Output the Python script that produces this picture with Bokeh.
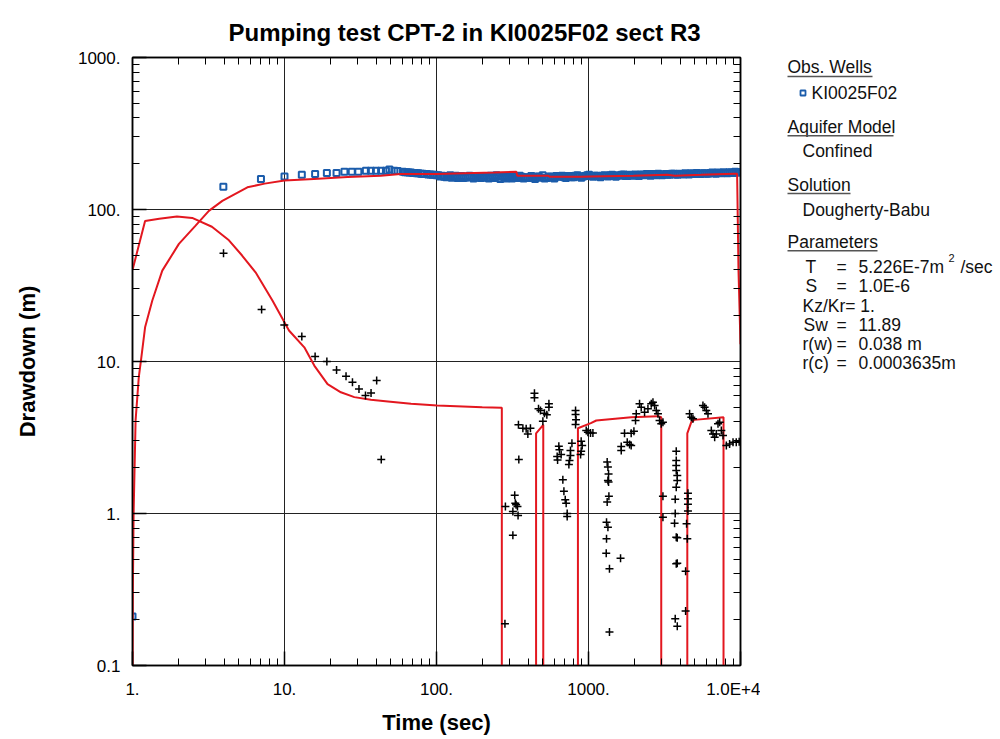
import math
from bokeh.plotting import figure
from bokeh.models import Range1d, LogAxis, FixedTicker, Title
from bokeh.layouts import row
from bokeh.embed import file_html
from bokeh.resources import INLINE
from bokeh.core.properties import value

# ---------------- data ----------------
TITLE = "Pumping test CPT-2 in KI0025F02 sect R3"
X_LABEL = "Time (sec)"
Y_LABEL = "Drawdown (m)"

x_ticks = [1, 10, 100, 1000, 10000]
x_tick_labels = ["1.", "10.", "100.", "1000.", "1.0E+4"]
y_ticks = [0.1, 1, 10, 100, 1000]
y_tick_labels = ["0.1", "1.", "10.", "100.", "1000."]

# observed drawdown, well KI0025F02 (early points)
obs_early_t = [1.0, 3.96, 7.0, 10.0, 13.0, 15.9, 19.0, 22.0, 24.8, 27.7, 30.6,
               34.3, 37.0, 40.0, 43.2, 46.5, 49.0, 52.8, 55.5]
obs_early_s = [0.21, 141, 159, 165, 169, 171, 174, 174, 177, 177, 177,
               180, 180, 180, 180, 180, 183, 180, 179]

# observed drawdown, dense later record
obs_late_t = [60, 64, 68, 72, 76, 81, 86, 91, 97, 103,
              109, 116, 123, 130, 138, 146, 155, 165, 175, 185,
              196, 208, 221, 234, 248, 263, 279, 296, 314, 333,
              353, 374, 396, 420, 445, 472, 500, 530, 562, 596,
              632, 670, 710, 753, 798, 846, 897, 951, 1008, 1068,
              1132, 1200, 1272, 1348, 1429, 1515, 1606, 1702, 1804, 1912,
              2027, 2149, 2278, 2415, 2560, 2714, 2877, 3050, 3233, 3427,
              3633, 3851, 4082, 4327, 4587, 4862, 5154, 5463, 5791, 6138,
              6506, 6896, 7310, 7749, 8214, 8707, 9229, 9783]
obs_late_s = [177, 176, 175, 174, 173, 172, 171, 170, 169, 168,
              167, 163, 168, 164, 161, 166, 162, 167, 160, 165,
              161, 166, 160, 164, 168, 159, 163, 166, 160, 164,
              167, 160, 163, 166, 159, 164, 168, 161, 165, 160,
              164, 167, 161, 166, 163, 168, 162, 166, 169, 164,
              167, 163, 168, 165, 169, 164, 167, 170, 166, 168,
              170, 166, 169, 171, 167, 170, 172, 168, 171, 169,
              172, 169, 171, 173, 170, 172, 174, 171, 173, 172,
              175, 172, 174, 176, 173, 175, 177, 175]
# additional readings between the above times
obs_mid_t = [62, 66, 70, 74, 79, 83, 88, 94, 100, 106,
             112, 119, 126, 134, 142, 150, 160, 170, 180, 190,
             202, 214, 227, 241, 255, 271, 287, 305, 323, 343,
             363, 385, 408, 432, 458, 486, 515, 546, 579, 614,
             651, 690, 731, 775, 822, 871, 924, 979, 1038, 1100,
             1166, 1236, 1310, 1388, 1472, 1560, 1654, 1753, 1858, 1970,
             2088, 2213, 2346, 2487, 2636, 2795, 2962, 3140, 3328, 3528,
             3740, 3964, 4202, 4454, 4721, 5004, 5305, 5623, 5960, 6318,
             6697, 7099, 7525, 7976, 8455, 8962, 9500, 9900]
obs_mid_s = [176, 175, 174, 173, 172, 171, 170, 169, 168, 165,
             164, 166, 162, 167, 163, 161, 165, 163, 166, 162,
             164, 162, 167, 161, 164, 166, 160, 163, 165, 161,
             164, 163, 161, 162, 165, 162, 160, 164, 162, 166,
             165, 163, 166, 163, 167, 165, 165, 168, 166, 167,
             165, 167, 166, 168, 166, 168, 169, 166, 169, 167,
             168, 170, 168, 169, 171, 168, 170, 170, 169, 172,
             170, 172, 170, 171, 173, 171, 172, 173, 172, 174,
             173, 175, 173, 174, 176, 174, 176, 176]

# derivative of observed drawdown
deriv_t = [3.97, 7.07, 9.97, 13.0, 15.9, 19.0, 22.0, 25.4, 28.0, 30.9, 34.1, 37.1, 40.4, 43.3,
           282, 284, 318, 318, 327, 330, 334, 341, 344, 346, 348, 370, 389, 399, 415,
           441, 441, 469, 483, 501, 513, 532, 549, 549,
           622, 626, 638, 644, 661, 678, 689, 703, 713, 724, 724,
           743, 750, 761, 761, 778, 822, 822, 828, 822, 887, 895, 895, 909,
           966, 991, 1031, 1069,
           1308, 1314, 1314, 1327, 1327, 1342, 1342, 1342, 1355, 1355, 1362, 1374, 1374,
           1625, 1642, 1642, 1726, 1798, 1863, 1909, 1909, 1990,
           2039, 2061, 2167, 2222, 2338, 2460, 2588, 2655, 2722, 2792, 2864, 2934, 3010,
           3088, 3088, 3088,
           3683, 3720, 3720, 3720, 3778, 3778, 3778, 3778, 3778, 3778, 3838, 3838, 3778,
           3838, 3838, 3838,
           4354, 4354, 4418, 4467, 4511, 4511, 4511, 4511, 4624, 4745, 4867,
           5661, 5806, 5957, 6110, 6427, 6592, 6761, 6934, 7112, 7294, 7481, 7673,
           8070, 8477, 8928, 9376, 9800]
deriv_s = [51.5, 22.0, 17.4, 14.6, 10.8, 10.0, 8.8, 8.0, 7.3, 6.6, 5.97, 6.2, 7.5, 2.27,
           0.188, 1.11, 1.03, 0.72, 1.32, 1.17, 1.14, 1.11, 0.97, 3.83, 2.27, 3.64, 3.61, 3.34, 3.64,
           6.19, 5.77, 4.89, 4.76, 4.05, 4.57, 4.46, 5.27, 5.0,
           2.37, 2.25, 2.77, 2.63, 2.44, 1.67, 1.40, 1.23, 1.17, 1.0, 0.955,
           2.10, 2.23, 2.41, 2.60, 2.90, 4.76, 4.48, 4.14, 3.85, 2.44, 2.99, 2.57, 2.80,
           3.51, 3.43, 3.38, 3.38,
           0.548, 0.877, 0.681, 2.18, 1.19, 2.02, 1.65, 0.813, 1.82, 1.61, 1.30, 0.433, 0.166,
           0.508, 2.76, 2.60, 3.37, 2.94, 2.84, 2.80, 3.37, 3.48,
           4.09, 4.53, 5.27, 5.00, 4.64, 4.88, 5.27, 5.40, 5.14, 4.76, 4.53, 4.09, 3.89,
           3.99, 1.30, 0.946,
           0.863, 1.24, 1.0, 0.203, 2.57, 2.23, 2.07, 1.92, 0.699, 0.467, 1.78, 1.65, 1.49,
           0.692, 0.471, 0.181,
           0.417, 0.228, 0.855, 0.681, 1.36, 1.25, 1.15, 1.04, 4.53, 4.30, 4.20,
           5.14, 5.00, 4.76, 4.53, 3.52, 3.34, 3.18, 3.34, 3.89, 3.99, 3.52, 3.26,
           2.80, 2.87, 2.94, 2.94, 2.97]

# Dougherty-Babu model: drawdown
model_t = [1.0, 1.005, 1.017, 1.048, 1.10, 1.136, 1.21, 1.35, 1.57, 2.02, 2.60, 3.18, 3.9,
           5.7, 7.4, 10.0, 15.6, 26.0, 43.0, 58.0, 101.0, 152.0, 240.0, 335.0, 340.0,
           540.0, 560.0, 890.0, 1030.0, 1980.0, 3300.0, 3700.0, 5500.0, 9100.0, 9500.0,
           9700.0, 10000.0]
model_s = [0.05, 0.3, 1.0, 4.1, 7.9, 10.1, 16.8, 25.2, 39.6, 59.4, 78.4, 98.0, 114.0,
           140.0, 148.0, 155.0, 159.0, 163.5, 167.0, 171.0, 171.0, 173.0, 175.0, 177.0, 167.0,
           167.0, 164.0, 164.0, 165.0, 167.0, 169.0, 167.0, 169.0, 172.0, 172.0,
           40.0, 13.0]

# Dougherty-Babu model: derivative
model_d_t = [1.0, 1.21, 1.5, 1.96, 2.47, 3.33, 4.31, 5.26, 6.45, 8.33, 10.7, 13.5, 15.7,
             19.2, 23.5, 28.8, 37.0, 47.9, 68.0, 101.0, 200.0, 269.0, 269.0,
             452.0, 452.0, 504.0, 504.0, 852.0, 852.0, 1036.0, 1125.0, 1911.0, 2864.0,
             3010.0, 3010.0, 4467.0, 4467.0, 4745.0, 4967.0, 7732.0, 7732.0]
model_d_s = [40.0, 84.0, 87.0, 90.0, 88.0, 77.0, 62.7, 49.8, 38.6, 25.2, 16.0, 12.4, 9.4,
             7.1, 6.27, 5.83, 5.6, 5.46, 5.27, 5.13, 5.0, 4.96, 0.01,
             0.01, 3.37, 3.83, 0.01, 0.01, 3.64, 3.93, 4.09, 4.30, 4.37,
             4.30, 0.01, 0.01, 3.37, 3.99, 4.13, 4.30, 0.01]

legend_well = "KI0025F02"
legend_headers = ["Obs. Wells", "Aquifer Model", "Solution", "Parameters"]
legend_items = ["Confined", "Dougherty-Babu"]
param_names = ["T", "S", "Sw", "r(w)", "r(c)"]
param_values = ["5.226E-7m", "1.0E-6", "11.89", "0.038 m", "0.0003635m"]
kz_text = "Kz/Kr= 1."

# ---------------- style / layout ----------------
FONT = "Liberation Sans"
RED = "#e3171f"
BLUE = "#1b5cab"
W_MAIN, H = 760, 739
FL, FR, FT, FB = 132, 20, 57, 74
X0, X1 = 1.0, 1.0e4
Y0, Y1 = 0.1, 1000.0

p = figure(width=W_MAIN, height=H, x_axis_type="log", y_axis_type="log",
           x_range=Range1d(X0, X1), y_range=Range1d(Y0, Y1),
           min_border_left=FL, min_border_right=FR, min_border_top=FT, min_border_bottom=FB,
           output_backend="svg", toolbar_location=None)
p.background_fill_color = "white"
p.border_fill_color = "white"
p.outline_line_color = "black"
p.outline_line_width = 1.5

p.title = Title(text=TITLE, align="left", offset=96, text_font=FONT,
                text_font_size="24px", text_font_style="bold", text_color="black",
                standoff=20, vertical_align="top")

x_minor = [m * 10 ** d for d in range(4) for m in range(2, 10)]
y_minor = [m * 10.0 ** d for d in range(-1, 3) for m in range(2, 10)]

xa = p.xaxis[0]
ya = p.yaxis[0]
xa.ticker = FixedTicker(ticks=x_ticks, minor_ticks=x_minor)
ya.ticker = FixedTicker(ticks=y_ticks, minor_ticks=y_minor)
xa.major_label_overrides = dict(zip(x_ticks, x_tick_labels))
ya.major_label_overrides = dict(zip(y_ticks, y_tick_labels))
for ax in (xa, ya):
    ax.major_tick_in = 14
    ax.major_tick_out = 0
    ax.minor_tick_in = 7
    ax.minor_tick_out = 0
    ax.major_tick_line_color = "black"
    ax.major_tick_line_width = 1.5
    ax.minor_tick_line_color = "black"
    ax.minor_tick_line_width = 1
    ax.axis_line_color = "black"
    ax.axis_line_width = 1.5
    ax.major_label_text_font = FONT
    ax.major_label_text_font_size = "17px"
    ax.major_label_text_color = "black"
    ax.axis_label_text_font = FONT
    ax.axis_label_text_font_size = "22px"
    ax.axis_label_text_font_style = "bold"
    ax.axis_label_text_color = "black"
xa.axis_label = X_LABEL
ya.axis_label = Y_LABEL
xa.major_label_standoff = 14
ya.major_label_standoff = 12
xa.axis_label_standoff = 8
ya.axis_label_standoff = 35

top = LogAxis(ticker=FixedTicker(ticks=[], minor_ticks=x_minor))
right = LogAxis(ticker=FixedTicker(ticks=[], minor_ticks=y_minor))
for ax in (top, right):
    ax.minor_tick_in = 7
    ax.minor_tick_out = 0
    ax.major_tick_in = 0
    ax.major_tick_out = 0
    ax.minor_tick_line_color = "black"
    ax.axis_line_color = "black"
    ax.axis_line_width = 1.5
    ax.major_label_standoff = 0
p.add_layout(top, "above")
p.add_layout(right, "right")

p.xgrid.ticker = FixedTicker(ticks=x_ticks)
p.ygrid.ticker = FixedTicker(ticks=y_ticks)
p.grid.grid_line_color = "#222222"
p.grid.grid_line_width = 1
p.grid.minor_grid_line_color = None

# data renderers (observations below the model curves, derivative crosses on top)
p.scatter(obs_early_t + obs_late_t + obs_mid_t, obs_early_s + obs_late_s + obs_mid_s,
          marker="square", size=6, line_color=BLUE, line_width=2, fill_color=None)
p.line(model_t, model_s, line_color=RED, line_width=2)
p.line(model_d_t, model_d_s, line_color=RED, line_width=2)
p.scatter(deriv_t, deriv_s, marker="cross", size=8, line_color="black", line_width=1.5)

# ---------------- legend panel ----------------
# in a row, the frames are aligned: the legend frame spans canvas rows FT .. H-FB
q = figure(width=1000 - W_MAIN, height=H, x_range=Range1d(W_MAIN, 1000),
           y_range=Range1d(H - FB, FT),
           x_axis_location=None, y_axis_location=None, min_border=0,
           min_border_top=FT, min_border_bottom=FB,
           output_backend="svg", toolbar_location=None)
q.grid.visible = False
q.outline_line_color = None
q.background_fill_color = "white"
q.border_fill_color = "white"

# header rows (text centre heights) and underline rows
hx = [787, 787, 787, 787]
hy = [66.5, 126.0, 184.0, 241.3]
uy = [76.0, 135.3, 193.0, 250.3]
hend = [872, 893, 850, 877]
txt, tx, ty = [], [], []
txt += legend_headers; tx += hx; ty += hy
txt += [legend_well]; tx += [811]; ty += [92.3]
txt += legend_items; tx += [802, 802]; ty += [150.0, 209.0]
py_rows = [266.7, 285.7, 324.0, 343.3, 362.3]
px_names = [805, 805, 803, 802, 802]
for n, v, yy, xx in zip(param_names, param_values, py_rows, px_names):
    txt += [n, "=", v]; tx += [xx, 836, 858]; ty += [yy, yy, yy]
txt += [kz_text]; tx += [802]; ty += [305.0]
txt += ["/sec"]; tx += [960]; ty += [266.7]

q.text(x=tx, y=ty, text=txt, text_font=value(FONT), text_font_size=value("17.5px"),
       text_baseline="middle", text_align="left", text_color="#111111")
q.text(x=[948], y=[257], text=["2"], text_font=value(FONT), text_font_size=value("11px"),
       text_baseline="middle", text_align="left", text_color="#111111")
q.segment(x0=hx, y0=uy, x1=hend, y1=uy, line_color="#555555", line_width=1.5)
q.scatter([802.5], [92.5], marker="square", size=5, line_color=BLUE, line_width=1.8,
          fill_color="white")

layout = row(p, q, spacing=0)
open("out.html", "w").write(file_html(layout, INLINE))
